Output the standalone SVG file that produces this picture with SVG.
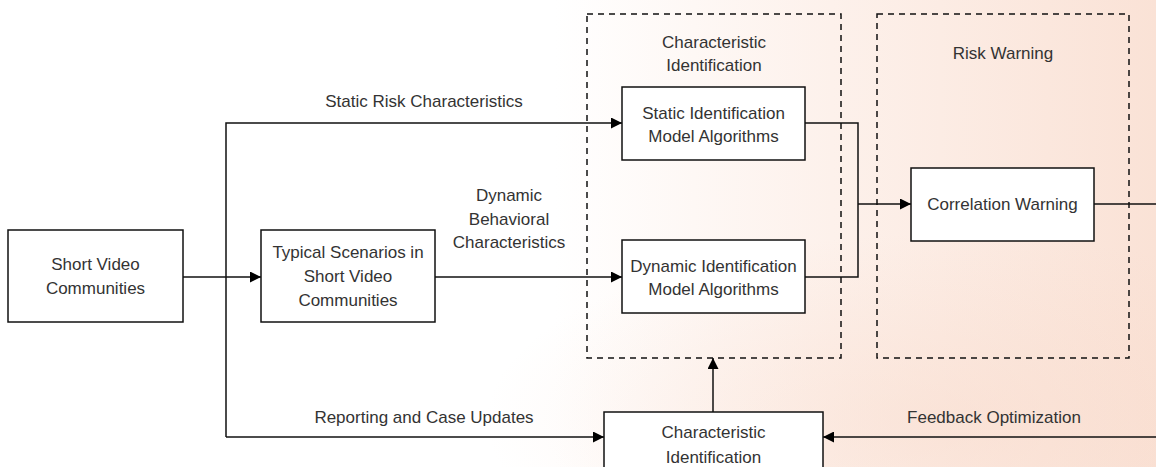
<svg xmlns="http://www.w3.org/2000/svg" width="1156" height="467" viewBox="0 0 1156 467">
  <defs>
    <linearGradient id="bg" x1="0" y1="0" x2="1" y2="0">
      <stop offset="0" stop-color="#ffffff"/>
      <stop offset="0.48" stop-color="#ffffff"/>
      <stop offset="0.72" stop-color="#fdf1eb"/>
      <stop offset="1" stop-color="#fae2d6"/>
    </linearGradient>
    <radialGradient id="glow" cx="0.82" cy="0.9" r="0.4">
      <stop offset="0" stop-color="#f8d8c8" stop-opacity="0.45"/>
      <stop offset="1" stop-color="#f8d8c8" stop-opacity="0"/>
    </radialGradient>
    <marker id="arr" viewBox="0 0 12 12" refX="12" refY="6" markerWidth="11" markerHeight="11" markerUnits="userSpaceOnUse" orient="auto">
      <path d="M0,0 L12,6 L0,12 Z" fill="#000"/>
    </marker>
    <style>
      .box { fill: #ffffff; stroke: #111; stroke-width: 1.5; }
      .grp { fill: none; stroke: #111; stroke-width: 1.5; stroke-dasharray: 6 5; }
      .ln { fill: none; stroke: #111; stroke-width: 1.5; }
      .t { font-family: "Liberation Sans", Arial, sans-serif; font-size: 17px; fill: #333; text-anchor: middle; }
    </style>
  </defs>

  <rect x="0" y="0" width="1156" height="467" fill="url(#bg)"/>
  <rect x="0" y="0" width="1156" height="467" fill="url(#glow)"/>

  <g id="group-characteristic-identification">
    <rect class="grp" x="587" y="14" width="254" height="344"/>
    <text class="t" x="714" y="48">Characteristic</text>
    <text class="t" x="714" y="71">Identification</text>
  </g>
  <g id="group-risk-warning">
    <rect class="grp" x="877" y="14" width="252" height="344"/>
    <text class="t" x="1003" y="59">Risk Warning</text>
  </g>

  <g id="connectors">
    <path class="ln" d="M183,277 L261,277" marker-end="url(#arr)"/>
    <path class="ln" d="M226,437 L226,123 L622,123" marker-end="url(#arr)"/>
    <path class="ln" d="M435,277 L622,277" marker-end="url(#arr)"/>
    <path class="ln" d="M226,437 L604,437" marker-end="url(#arr)"/>
    <path class="ln" d="M805,123 L858,123 L858,277 L805,277"/>
    <path class="ln" d="M858,204 L911,204" marker-end="url(#arr)"/>
    <path class="ln" d="M1094,204 L1156,204"/>
    <path class="ln" d="M1156,437 L823,437" marker-end="url(#arr)"/>
    <path class="ln" d="M713,412 L713,358" marker-end="url(#arr)"/>
    <text class="t" x="424" y="107">Static Risk Characteristics</text>
    <text class="t" x="509" y="201">Dynamic</text>
    <text class="t" x="509" y="225">Behavioral</text>
    <text class="t" x="509" y="248">Characteristics</text>
    <text class="t" x="424" y="423">Reporting and Case Updates</text>
    <text class="t" x="994" y="423">Feedback Optimization</text>
  </g>

  <g id="node-short-video">
    <rect class="box" x="8" y="230" width="175" height="92"/>
    <text class="t" x="95.5" y="270">Short Video</text>
    <text class="t" x="95.5" y="294">Communities</text>
  </g>
  <g id="node-typical-scenarios">
    <rect class="box" x="261" y="230" width="174" height="92"/>
    <text class="t" x="348" y="258">Typical Scenarios in</text>
    <text class="t" x="348" y="282">Short Video</text>
    <text class="t" x="348" y="306">Communities</text>
  </g>
  <g id="node-static-identification">
    <rect class="box" x="622" y="87" width="183" height="73"/>
    <text class="t" x="713.5" y="119">Static Identification</text>
    <text class="t" x="713.5" y="142">Model Algorithms</text>
  </g>
  <g id="node-dynamic-identification">
    <rect class="box" x="622" y="240" width="183" height="73"/>
    <text class="t" x="713.5" y="272">Dynamic Identification</text>
    <text class="t" x="713.5" y="295">Model Algorithms</text>
  </g>
  <g id="node-correlation-warning">
    <rect class="box" x="911" y="168" width="183" height="73"/>
    <text class="t" x="1002.5" y="210">Correlation Warning</text>
  </g>
  <g id="node-characteristic-identification-bottom">
    <rect class="box" x="604" y="412" width="219" height="70"/>
    <text class="t" x="713.5" y="438">Characteristic</text>
    <text class="t" x="713.5" y="463">Identification</text>
  </g>
</svg>
